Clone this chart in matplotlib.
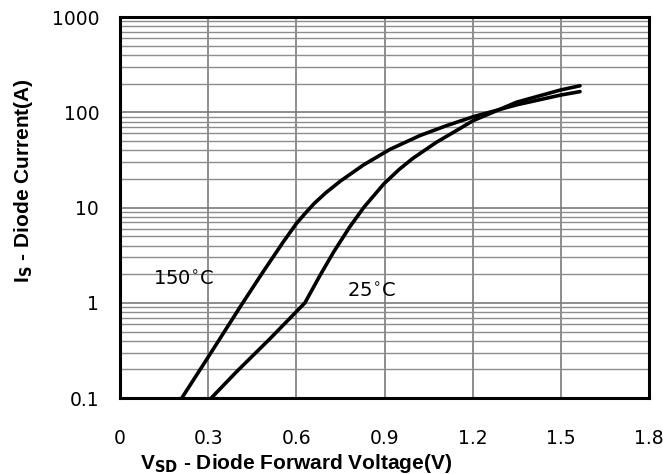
"""
Body diode forward characteristic: I_S vs V_SD at 25 and 150 degC
"""

import matplotlib
matplotlib.use('Agg')
import matplotlib.pyplot as plt
import numpy as np

v_150 = [0.21, 0.30, 0.41, 0.486, 0.554, 0.60, 0.63, 0.66, 0.70, 0.75,
         0.828, 0.918, 1.02, 1.111, 1.202, 1.35, 1.5, 1.565]
i_150 = [0.1, 0.27, 0.92, 2.1, 4.3, 6.8, 8.7, 11.0, 14.3, 19.0,
         28.0, 40.8, 57.0, 72.5, 90.0, 120.0, 152.0, 165.0]

v_25 = [0.31, 0.397, 0.51, 0.629, 0.68, 0.726, 0.782, 0.83, 0.898, 0.95,
        0.997, 1.077, 1.156, 1.202, 1.35, 1.5, 1.565]
i_25 = [0.1, 0.19, 0.42, 1.0, 1.93, 3.39, 6.3, 10.1, 17.8, 25.2,
        33.0, 48.6, 67.5, 82.0, 128.0, 172.0, 190.0]

x_ticks = [0, 0.3, 0.6, 0.9, 1.2, 1.5, 1.8]
x_tick_labels = ['0', '0.3', '0.6', '0.9', '1.2', '1.5', '1.8']
y_ticks = [0.1, 1, 10, 100, 1000]
y_tick_labels = ['0.1', '1', '10', '100', '1000']

GRID_COLOR = '#8c8c8c'

fig = plt.figure(figsize=(6.63, 4.74), dpi=100)
ax = fig.add_axes([0.181, 0.160, 0.798, 0.804])

ax.set_yscale('log')
ax.set_xlim(0, 1.8)
ax.set_ylim(0.1, 1000)

# grid: every 0.3 V, every minor log step
ax.set_xticks(x_ticks)
ax.set_xticklabels(x_tick_labels)
ax.set_yticks(y_ticks)
ax.set_yticklabels(y_tick_labels)
ax.yaxis.set_minor_locator(matplotlib.ticker.LogLocator(base=10, subs=np.arange(2, 10)))
ax.yaxis.set_minor_formatter(matplotlib.ticker.NullFormatter())
ax.grid(True, which='major', axis='both', color='#7a7a7a', linewidth=1.2)
ax.grid(True, which='minor', axis='y', color=GRID_COLOR, linewidth=1.0)
ax.set_axisbelow(True)

ax.tick_params(which='both', length=0)
ax.tick_params(axis='x', pad=22, labelsize=13.5)
ax.tick_params(axis='y', pad=15, labelsize=13.5)
for lab in ax.get_xticklabels() + ax.get_yticklabels():
    lab.set_family('DejaVu Sans')

for s in ax.spines.values():
    s.set_linewidth(2.2)
    s.set_color('black')

ax.plot(v_150, i_150, color='black', linewidth=2.6, solid_capstyle='round',
        solid_joinstyle='round')
ax.plot(v_25, i_25, color='black', linewidth=2.6, solid_capstyle='round',
        solid_joinstyle='round')

ax.text(0.112, 1.75, r'150$^{\circ}$C', fontsize=14, family='DejaVu Sans',
        ha='left', va='center')
ax.text(0.772, 1.3, r'25$^{\circ}$C', fontsize=14, family='DejaVu Sans',
        ha='left', va='center')

ax.set_xlabel(r'V$_{\mathbf{SD}}$ - Diode Forward Voltage(V)', fontsize=15,
              fontweight='bold', family='Liberation Sans', va='baseline')
ax.xaxis.set_label_coords(0.333, -0.186)
ax.set_ylabel(r'I$_{\mathbf{S}}$ - Diode Current(A)', fontsize=15,
              fontweight='bold', family='Liberation Sans')
ax.yaxis.set_label_coords(-0.161, 0.57)

plt.savefig('out.png', dpi=100)
plt.close()
